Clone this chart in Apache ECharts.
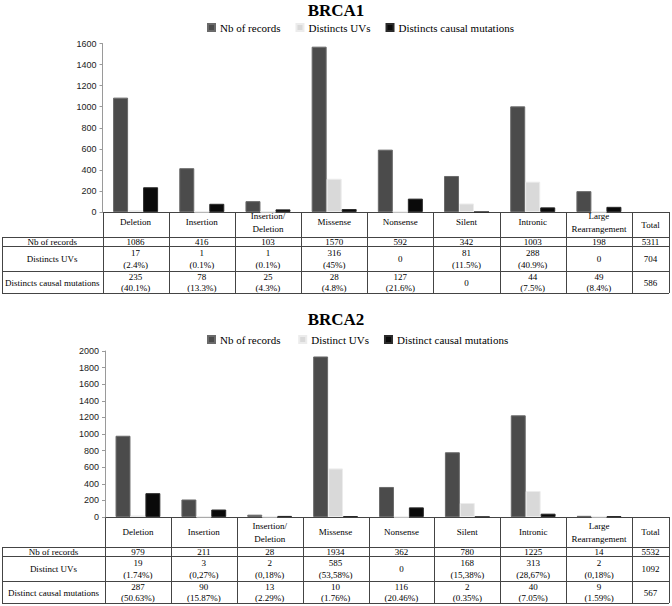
<!DOCTYPE html>
<html><head><meta charset="utf-8">
<script src="https://cdn.jsdelivr.net/npm/echarts@6/dist/echarts.min.js"></script>
<style>html,body{margin:0;padding:0;background:#fff}#c{width:672px;height:606px}</style>
</head><body><div id="c"></div>
<script>
// ---------- data ----------
const categories = ['Deletion','Insertion','Insertion/\nDeletion','Missense','Nonsense','Silent','Intronic','Large\nRearrangement'];
const rowLabels1 = ['Nb of records','Distincts UVs','Distincts causal mutations'];
const rowLabels2 = ['Nb of records','Distinct UVs','Distinct causal mutations'];

const brca1Records = [1086, 416, 103, 1570, 592, 342, 1003, 198];
const brca1UVs     = [17, 1, 1, 316, 0, 81, 288, 0];
const brca1Causal  = [235, 78, 25, 28, 127, 0, 44, 49];
const brca1UVsPct    = ['(2.4%)','(0.1%)','(0.1%)','(45%)','','(11.5%)','(40.9%)',''];
const brca1CausalPct = ['(40.1%)','(13.3%)','(4.3%)','(4.8%)','(21.6%)','','(7.5%)','(8.4%)'];
const brca1Totals = [5311, 704, 586];
const brca1YTicks = {min:0, max:1600, interval:200};

const brca2Records = [979, 211, 28, 1934, 362, 780, 1225, 14];
const brca2UVs     = [19, 3, 2, 585, 0, 168, 313, 2];
const brca2Causal  = [287, 90, 13, 10, 116, 2, 40, 9];
const brca2UVsPct    = ['(1.74%)','(0,27%)','(0,18%)','(53,58%)','','(15,38%)','(28,67%)','(0,18%)'];
const brca2CausalPct = ['(50.63%)','(15.87%)','(2.29%)','(1.76%)','(20.46%)','(0.35%)','(7.05%)','(1.59%)'];
const brca2Totals = [5532, 1092, 567];
const brca2YTicks = {min:0, max:2000, interval:200};

// ---------- layout ----------
const SERIF = 'Liberation Serif';
const SANS = 'Liberation Sans';
const L1 = {left:102.5, right:632, top:43.5, axisY:212, total:669, tableLeft:2,
            rows:[212,237,246,271,293], labelMargin:10, titleY:2, legendY:17};
const L2 = {left:105, right:632, top:351, axisY:517, total:669, tableLeft:2,
            rows:[517,547,556,581,603], labelMargin:15, titleY:311, legendY:329};

const COL_DARK = '#4b4b4b', COL_LIGHT = '#d9d9d9', COL_BLACK = '#0a0a0a';

function cellText(v, pct){ return pct ? (v + '\n' + pct) : String(v); }

function buildTable(L, rowLabels, rec, uvs, uvPct, cau, cauPct, totals){
  const els = [];
  const n = categories.length;
  const cw = (L.right - L.left) / n;
  const stroke = '#444';
  const line = (x1,y1,x2,y2)=>els.push({type:'line', silent:true,
      shape:{x1:x1,y1:y1,x2:x2,y2:y2}, style:{stroke:stroke, lineWidth:1}});
  const r = L.rows;
  line(L.left, r[0]+0.5, L.total, r[0]+0.5);
  for (let i=1;i<r.length;i++) line(L.tableLeft, r[i]+0.5, L.total, r[i]+0.5);
  line(L.tableLeft+0.5, r[1], L.tableLeft+0.5, r[4]);
  for (let i=0;i<=n;i++){ const x = Math.round(L.left + i*cw)+0.5; line(x, r[0], x, r[4]); }
  line(L.total+0.5, r[0], L.total+0.5, r[4]);
  const txt = (t, x, y, lh)=>els.push({type:'text', silent:true,
      style:{text:t, x:x, y:y, align:'center', verticalAlign:'middle',
             textAlign:'center', textVerticalAlign:'middle',
             fontFamily:SERIF, fontSize:9, lineHeight:lh, fill:'#000'}});
  const labCx = (L.tableLeft + L.left)/2;
  const rowCy = i => (r[i] + r[i+1])/2 + 0.5;
  rowLabels.forEach((t,i)=>txt(t, labCx, rowCy(i+1), 12));
  for (let c=0;c<n;c++){
    const cx = L.left + (c+0.5)*cw;
    txt(String(rec[c]), cx, rowCy(1), 10);
    txt(cellText(uvs[c], uvPct[c]), cx, rowCy(2), 12);
    txt(cellText(cau[c], cauPct[c]), cx, rowCy(3), 11);
  }
  const tx = (L.right + L.total)/2;
  txt('Total', tx, (r[0]+r[1])/2, 12);
  totals.forEach((t,i)=>txt(String(t), tx, rowCy(i+1), 12));
  return els;
}

function bar(name, data, color, border, idx){
  return {type:'bar', name:name, data:data, xAxisIndex:idx, yAxisIndex:idx,
    barGap:'0%', barCategoryGap:'32%',
    itemStyle:{color:color, borderColor:border, borderWidth:1}};
}

function xAx(L, idx){
  return {type:'category', gridIndex:idx, data:categories,
    axisLine:{show:false}, axisTick:{show:false},
    axisLabel:{interval:0, margin:L.labelMargin, verticalAlign:'middle',
      fontFamily:SERIF, fontSize:9, lineHeight:13, color:'#000'}};
}
function yAx(t, idx){
  return {type:'value', gridIndex:idx, min:t.min, max:t.max, interval:t.interval,
    axisLine:{show:true, lineStyle:{color:'#9a9a9a'}},
    axisTick:{show:true, length:3, lineStyle:{color:'#9a9a9a'}},
    splitLine:{show:false},
    axisLabel:{margin:6, fontFamily:SANS, fontSize:9, color:'#222',
      formatter:function(v){ return String(v); }}};
}

const legendText = {fontFamily:SERIF, fontSize:11, color:'#000'};
const option = {
  animation:false,
  backgroundColor:'#fff',
  textStyle:{fontFamily:SERIF},
  title:[
    {text:'BRCA1', left:'center', top:L1.titleY, padding:0,
     textStyle:{fontFamily:SERIF, fontSize:17, fontWeight:'bold', color:'#000'}},
    {text:'BRCA2', left:'center', top:L2.titleY, padding:0,
     textStyle:{fontFamily:SERIF, fontSize:17, fontWeight:'bold', color:'#000'}}
  ],
  legend:[
    {left:202, top:L1.legendY, itemWidth:7, itemHeight:7, itemGap:15, icon:'rect',
     data:['Nb of records','Distincts UVs','Distincts causal mutations'], textStyle:legendText},
    {left:202, top:L2.legendY, itemWidth:7, itemHeight:7, itemGap:15, icon:'rect',
     data:['Nb of records ','Distinct UVs','Distinct causal mutations'], textStyle:legendText}
  ],
  grid:[
    {left:L1.left, top:L1.top, width:L1.right-L1.left, height:L1.axisY-L1.top},
    {left:L2.left, top:L2.top, width:L2.right-L2.left, height:L2.axisY-L2.top}
  ],
  xAxis:[xAx(L1,0), xAx(L2,1)],
  yAxis:[yAx(brca1YTicks,0), yAx(brca2YTicks,1)],
  series:[
    bar('Nb of records', brca1Records, COL_DARK, '#6a6a6a', 0),
    bar('Distincts UVs', brca1UVs, COL_LIGHT, '#ececec', 0),
    bar('Distincts causal mutations', brca1Causal, COL_BLACK, '#2a2a2a', 0),
    bar('Nb of records ', brca2Records, COL_DARK, '#6a6a6a', 1),
    bar('Distinct UVs', brca2UVs, COL_LIGHT, '#ececec', 1),
    bar('Distinct causal mutations', brca2Causal, COL_BLACK, '#2a2a2a', 1)
  ],
  graphic:{elements:[].concat(
    buildTable(L1, rowLabels1, brca1Records, brca1UVs, brca1UVsPct, brca1Causal, brca1CausalPct, brca1Totals),
    buildTable(L2, rowLabels2, brca2Records, brca2UVs, brca2UVsPct, brca2Causal, brca2CausalPct, brca2Totals)
  )}
};
const chart = echarts.init(document.getElementById('c'), null, {renderer:'svg'});
chart.setOption(option);
</script></body></html>
